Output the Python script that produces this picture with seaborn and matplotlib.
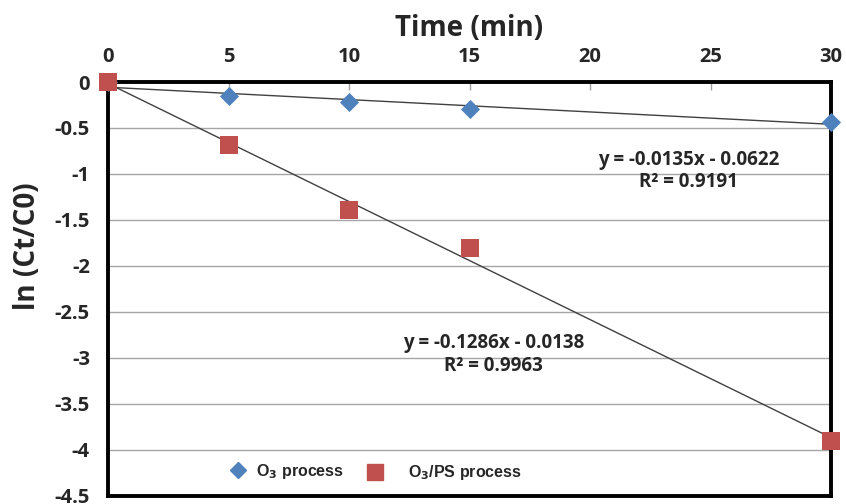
import numpy as np
import pandas as pd
import seaborn as sns
import matplotlib
matplotlib.use("Agg")
import matplotlib.pyplot as plt

# Data
time_min = [0, 5, 10, 15, 30]
o3_vals = [0.0, -0.15, -0.22, -0.29, -0.43]
o3ps_vals = [0.0, -0.69, -1.39, -1.80, -3.90]
x_ticks = [0, 5, 10, 15, 20, 25, 30]
y_ticks = [0, -0.5, -1, -1.5, -2, -2.5, -3, -3.5, -4, -4.5]
eq_o3 = ["y = -0.0135x - 0.0622", "R² = 0.9191"]
eq_o3ps = ["y = -0.1286x - 0.0138", "R² = 0.9963"]
series_labels = ["O$_3$ process", "O$_3$/PS process"]

sns.set_theme(style="white")
plt.rcParams['font.family'] = ['Open Sans', 'DejaVu Sans']
plt.rcParams['font.weight'] = 'bold'

df = pd.DataFrame({
    "t": time_min * 2,
    "v": o3_vals + o3ps_vals,
    "series": ["O3"] * len(time_min) + ["O3PS"] * len(time_min),
})

fig = plt.figure(figsize=(8.46, 5.04), dpi=100)
ax = fig.add_axes([0.1277, 0.0159, 0.8546, 0.8214])

# trend lines
for s in ["O3", "O3PS"]:
    sub = df[df.series == s]
    sns.regplot(data=sub, x="t", y="v", ax=ax, scatter=False, ci=None,
                truncate=True, line_kws=dict(color="#404040", lw=1.0, zorder=3))

blue = "#4F81BD"
red = "#C0504D"
sub = df[df.series == "O3"]
sns.scatterplot(data=sub, x="t", y="v", ax=ax, marker="D", s=95, color=blue,
                edgecolor=blue, linewidth=0, zorder=4, clip_on=False, legend=False)
sub = df[df.series == "O3PS"]
sns.scatterplot(data=sub, x="t", y="v", ax=ax, marker="s", s=170, color=red,
                edgecolor=red, linewidth=0, zorder=5, clip_on=False, legend=False)

ax.set_xlim(0, 30)
ax.set_ylim(-4.5, 0)
ax.set_xticks(x_ticks)
ax.set_yticks(y_ticks)
ax.set_yticklabels([("%g" % v) for v in y_ticks])
ax.xaxis.tick_top()
ax.xaxis.set_label_position("top")
ax.tick_params(axis="x", direction="in", length=6, width=1, color="#A0A0A0",
               labelsize=14.5, pad=11)
ax.tick_params(axis="y", direction="out", length=6, width=1, color="#A0A0A0",
               labelsize=14.5, pad=7)
for t in ax.xaxis.get_major_ticks() + ax.yaxis.get_major_ticks():
    t.label1.set_fontweight("bold")
    t.label2.set_fontweight("bold")

ax.yaxis.grid(True, color="#A6A6A6", lw=1)
ax.xaxis.grid(False)
for sp in ax.spines.values():
    sp.set_visible(True)
    sp.set_color("black")
    sp.set_linewidth(2.8)

ax.set_xlabel("Time (min)", fontsize=20, fontweight="bold")
ax.xaxis.set_label_coords(0.5, 1.112)
ax.set_ylabel("ln (Ct/C0)", fontsize=20, fontweight="bold")
ax.yaxis.set_label_coords(-0.092, 0.604)

ax.text(24.1, -0.85, eq_o3[0], fontsize=13.5, fontweight="bold", ha="center", va="center")
ax.text(24.1, -1.09, eq_o3[1], fontsize=13.5, fontweight="bold", ha="center", va="center")
ax.text(16.0, -2.84, eq_o3ps[0], fontsize=13.5, fontweight="bold", ha="center", va="center")
ax.text(16.0, -3.09, eq_o3ps[1], fontsize=13.5, fontweight="bold", ha="center", va="center")

# legends (two single-entry legends to match spacing)
h1 = plt.Line2D([], [], marker="D", ls="none", color=blue, markersize=8.5)
h2 = plt.Line2D([], [], marker="s", ls="none", color=red, markersize=11.5)
lp = dict(family="Liberation Sans", weight="bold", size=11.5)
leg1 = ax.legend([h1], [series_labels[0]], loc="center left", bbox_to_anchor=(0.169, 0.060),
                 frameon=False, prop=lp, handlelength=1.0, handletextpad=0.6,
                 borderpad=0, borderaxespad=0)
ax.add_artist(leg1)
leg2 = ax.legend([h2], [series_labels[1]], loc="center left", bbox_to_anchor=(0.358, 0.056),
                 frameon=False, prop=lp, handlelength=1.0, handletextpad=1.55,
                 borderpad=0, borderaxespad=0)

fig.savefig("out.png", dpi=100)
